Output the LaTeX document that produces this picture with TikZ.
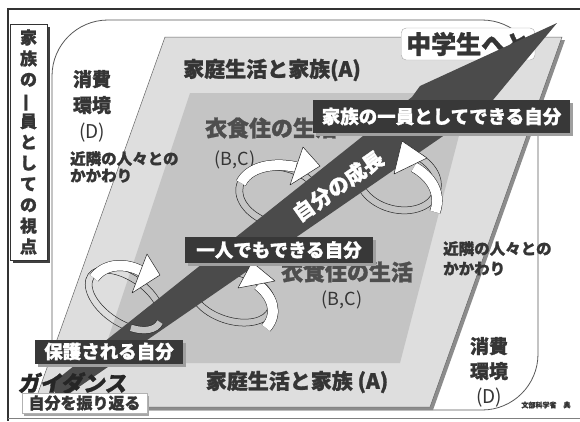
\documentclass[tikz,border=0pt]{standalone}
\usepackage{fontspec}
\usepackage{graphicx}
\setmainfont{Noto Sans CJK JP}[BoldFeatures={FakeBold=1.2}]
\newfontfamily\jpslant{Noto Sans CJK JP}[FakeSlant=0.18, BoldFeatures={FakeBold=1.2}]
\usetikzlibrary{shadows}
\definecolor{shaftgray}{HTML}{4B4B4B}
\definecolor{lightpar}{HTML}{DEDEDE}
\definecolor{midpar}{HTML}{C4C4C4}
\definecolor{labelgray}{HTML}{383838}
\definecolor{textgray}{HTML}{353535}
\definecolor{bodygray}{HTML}{4E4E4E}
\begin{document}
\begin{tikzpicture}[x=1pt,y=-1pt,
  txt/.style={text=textgray, inner sep=0pt, font=\bfseries\fontsize{#1}{#1}\selectfont},
  reg/.style={text=textgray, inner sep=0pt, font=\fontsize{#1}{#1}\selectfont},
  darkbox/.style={fill=labelgray, text=white, inner sep=0pt,
    font=\bfseries\fontsize{18.5}{18.5}\selectfont,
    drop shadow={shadow xshift=3pt, shadow yshift=-3pt, fill=gray!75, opacity=1}},
  ringline/.style={draw=black!85, line width=0.5pt},
  ribbon/.style={draw=black!85, line width=0.5pt, double=white, double distance=10pt},
  swhead/.style={fill=white, draw=black!85, line width=0.5pt, line join=round}]
\useasboundingbox (0,0) rectangle (580,421);
\fill[white] (0,0) rectangle (580,421);
% outer frame
\draw[black!80, line width=1.2pt] (580,9) -- (8,9) -- (8,421);
\draw[black!50, line width=1pt] (8,418) -- (580,418);
% rounded frame
\draw[black!65, line width=0.8pt, rounded corners=56pt] (52,410) -- (52,20) -- (538,20) -- (538,410) -- cycle;
% parallelograms
\fill[black!45] (168,40) -- (565,40) -- (433,410) -- (36,410) -- cycle;
\filldraw[fill=lightpar, draw=black!60, line width=0.5pt] (165,37) -- (562,37) -- (430,407) -- (33,407) -- cycle;
\fill[midpar] (190,93) -- (470,93) -- (400,363) -- (100,363) -- cycle;
% texts on the ground
\node[txt=21] (topA) at (272,70) {家庭生活と家族(A)};
\node[txt=21] (botA) at (297,382) {家庭生活と家族 (A)};
\node[txt=22, text=bodygray] (clothTop) at (271,128) {衣食住の生活};
\node[txt=22, text=bodygray] (clothBot) at (347,272) {衣食住の生活};
\node[reg=18] (bcTop) at (235,160) {(B,C)};
\node[reg=18] (bcBot) at (342,300) {(B,C)};
\node[text=textgray, inner sep=0pt, align=center, font=\bfseries\fontsize{19}{26}\selectfont] (consTL) at (92,106) {消費\\環境\\{\mdseries (D)}};
\node[text=textgray, inner sep=0pt, align=center, font=\bfseries\fontsize{19}{25}\selectfont] (consBR) at (489,372) {消費\\環境\\{\mdseries (D)}};
\node[text=textgray, inner sep=0pt, anchor=north west, align=left, font=\bfseries\fontsize{15.5}{17}\selectfont] (nbL) at (70,151) {近隣の人々との\\かかわり};
\node[text=textgray, inner sep=0pt, anchor=north west, align=left, font=\bfseries\fontsize{15.5}{20}\selectfont] (nbR) at (443,241) {近隣の人々との\\かかわり};
% junior high box
\node[draw=gray!70, fill=white, rounded corners=5pt, anchor=west, inner xsep=5pt, inner ysep=3pt,
  minimum height=32pt, text=textgray, font=\bfseries\fontsize{25}{25}\selectfont] (jhs) at (401,44) {中学生へと};
% rings behind the shaft
\begin{scope}[shift={(125,300)}, rotate=-35]
  \draw[ringline] (0,0) ellipse [x radius=45, y radius=26];
  \draw[ringline] (0,0) ellipse [x radius=38, y radius=19];
\end{scope}
\begin{scope}[shift={(280,196)}, rotate=-15]
  \draw[ringline] (0,0) ellipse [x radius=45, y radius=32];
  \draw[ringline] (0,0) ellipse [x radius=38, y radius=25];
\end{scope}
\begin{scope}[shift={(232,296)}, rotate=-18]
  \draw[ringline] (0,0) ellipse [x radius=45, y radius=28];
  \draw[ringline] (0,0) ellipse [x radius=38, y radius=21];
\end{scope}
\begin{scope}[shift={(398,180)}, rotate=-15]
  \draw[ringline] (0,0) ellipse [x radius=44, y radius=33];
  \draw[ringline] (0,0) ellipse [x radius=37, y radius=26];
\end{scope}
% growth arrow
\fill[shaftgray] (50,385) -- (412,97) -- (420,86) -- (557,23) -- (478,118) -- (462,123) -- (60,400) -- cycle;
% front part of ring A
\begin{scope}[shift={(125,300)}, rotate=-35]
  \draw[ringline, double=midpar, double distance=6.5pt] (-5:41.5 and 22.5) arc[start angle=-5, end angle=60, x radius=41.5, y radius=22.5];
\end{scope}
\node[font=\bfseries\fontsize{21}{21}\selectfont, text=white, rotate=35, inner sep=0pt] (growth) at (338,186) {自分の成長};
% swirl arrows
\draw[ribbon] (94,278) .. controls (104,264) and (124,262) .. (141,271);
\filldraw[swhead] (147,254) -- (160,275) -- (132,293) -- cycle;
\draw[ribbon] (241,183) .. controls (249,167) and (272,162) .. (296,167);
\filldraw[swhead] (303,147) -- (320,166) -- (290,185) -- cycle;
\draw[ribbon] (266,328) .. controls (279,313) and (272,296) .. (258,285);
\filldraw[swhead] (238,288) -- (252,262) -- (275,281) -- cycle;
\draw[ribbon] (435,212) .. controls (442,192) and (430,176) .. (414,167);
\filldraw[swhead] (394,174) -- (402,141) -- (427,158) -- cycle;
% labels
\node[darkbox, minimum width=257pt, minimum height=33pt] (famSelf) at (441.5,116.5) {家族の一員としてできる自分};
\node[darkbox, minimum width=188pt, minimum height=26pt] (alone) at (279,250) {一人でもできる自分};
\node[darkbox, minimum width=148pt, minimum height=24pt] (protect) at (109,351.5) {保護される自分};
\node[text=black!85, inner sep=0pt, font=\jpslant\bfseries\fontsize{22}{22}\selectfont] (guide) at (72,383) {ガイダンス};
\node[draw=gray!60, fill=white, text=textgray, inner sep=0pt, minimum width=125pt, minimum height=20pt,
  font=\bfseries\fontsize{16}{16}\selectfont,
  drop shadow={shadow xshift=2pt, shadow yshift=-3pt, fill=gray!70, opacity=1}] (reflect) at (84.5,403) {自分を振り返る};
% left viewpoint label
\node[draw=black!80, fill=white, line width=0.6pt, inner sep=0pt, minimum width=37pt, minimum height=236pt,
  align=center, text=textgray, font=\bfseries\fontsize{17}{20.9}\selectfont,
  drop shadow={shadow xshift=3pt, shadow yshift=-3pt, fill=black!75, opacity=1}] (view) at (28.5,142)
  {家\\族\\の\\\smash{\rotatebox[origin=c]{90}{一}}\\員\\と\\し\\て\\の\\視\\点};
\node[text=textgray, inner sep=0pt, font=\bfseries\fontsize{7}{7}\selectfont] (src) at (546,405) {文部科学省　典};
\end{tikzpicture}
\end{document}
